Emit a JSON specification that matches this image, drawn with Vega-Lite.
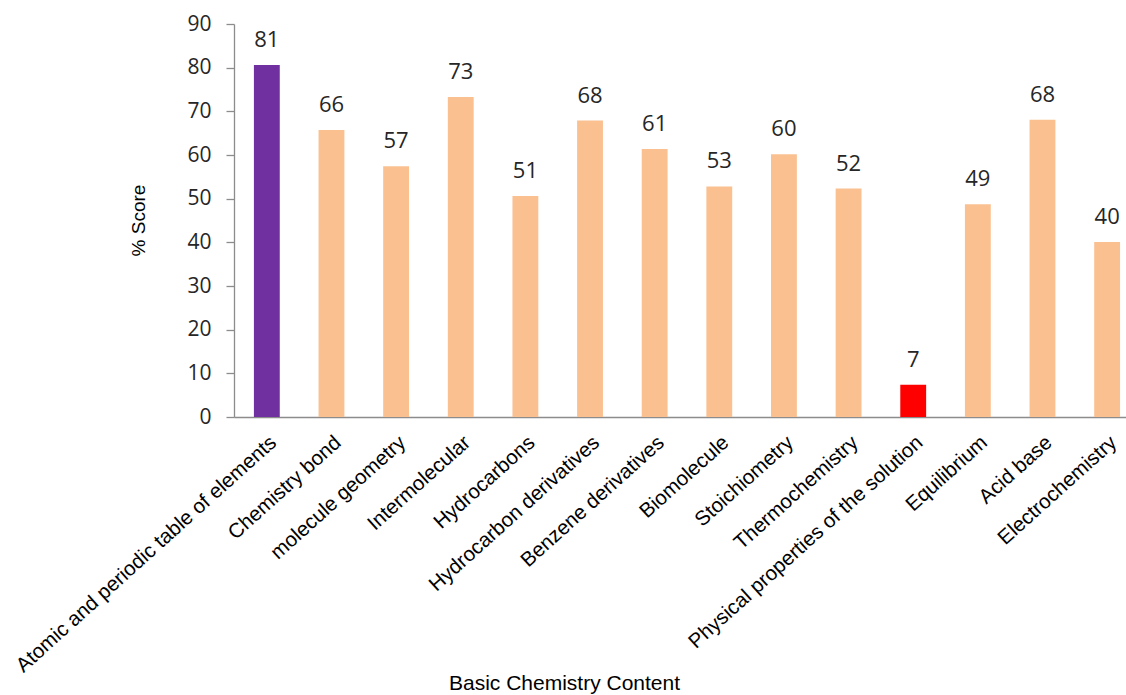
{
  "$schema": "https://vega.github.io/schema/vega-lite/v6.json",
  "width": 892,
  "height": 393,
  "autosize": {"type": "none"},
  "padding": {"left": 234, "top": 24, "right": 0, "bottom": 278},
  "background": "white",
  "config": {"view": {"stroke": null}},
  "data": {
    "values": [
      {"topic": "Atomic and periodic table of elements", "score": 80.6, "status": "highest"},
      {"topic": "Chemistry bond", "score": 65.7, "status": "other"},
      {"topic": "molecule geometry", "score": 57.4, "status": "other"},
      {"topic": "Intermolecular", "score": 73.3, "status": "other"},
      {"topic": "Hydrocarbons", "score": 50.6, "status": "other"},
      {"topic": "Hydrocarbon derivatives", "score": 67.9, "status": "other"},
      {"topic": "Benzene derivatives", "score": 61.4, "status": "other"},
      {"topic": "Biomolecule", "score": 52.8, "status": "other"},
      {"topic": "Stoichiometry", "score": 60.2, "status": "other"},
      {"topic": "Thermochemistry", "score": 52.3, "status": "other"},
      {"topic": "Physical properties of the solution", "score": 7.4, "status": "lowest"},
      {"topic": "Equilibrium", "score": 48.7, "status": "other"},
      {"topic": "Acid base", "score": 68.1, "status": "other"},
      {"topic": "Electrochemistry", "score": 40.1, "status": "other"}
    ]
  },
  "encoding": {
    "x": {
      "field": "topic",
      "type": "nominal",
      "sort": null,
      "scale": {"paddingInner": 0.6, "paddingOuter": 0.2, "align": 0.77},
      "axis": {
        "title": "Basic Chemistry Content",
        "titleFont": "Liberation Sans",
        "titleFontSize": 21,
        "titleFontWeight": "normal",
        "titleColor": "#000000",
        "titleX": 330,
        "titleY": 272,
        "titleAlign": "center",
        "titleBaseline": "alphabetic",
        "labelAngle": -42,
        "labelFont": "Liberation Sans",
        "labelFontSize": 20.5,
        "labelColor": "#000000",
        "labelPadding": 15,
        "labelLimit": 500,
        "labelOverlap": false,
        "ticks": false,
        "domainColor": "#8c8c8c",
        "domainWidth": 1.3,
        "grid": false
      }
    },
    "y": {
      "field": "score",
      "type": "quantitative",
      "scale": {"domain": [0, 90], "nice": false},
      "axis": {
        "title": "% Score",
        "titleFont": "Liberation Sans",
        "titleFontSize": 19,
        "titleFontWeight": "normal",
        "titleColor": "#000000",
        "titleAngle": -90,
        "titleX": -96,
        "titleY": 196,
        "titleAlign": "center",
        "titleBaseline": "middle",
        "values": [0, 10, 20, 30, 40, 50, 60, 70, 80, 90],
        "labelFont": "Open Sans",
        "labelFontSize": 21,
        "labelColor": "#262626",
        "labelPadding": 15,
        "tickSize": 8,
        "tickColor": "#8c8c8c",
        "tickWidth": 1.3,
        "domainColor": "#8c8c8c",
        "domainWidth": 1.3,
        "grid": false
      }
    }
  },
  "layer": [
    {
      "mark": {"type": "bar"},
      "encoding": {
        "color": {
          "field": "status",
          "type": "nominal",
          "scale": {"domain": ["highest", "other", "lowest"], "range": ["#7030A0", "#FAC090", "#FF0000"]},
          "legend": null
        }
      }
    },
    {
      "mark": {"type": "text", "baseline": "alphabetic", "dy": -18, "font": "Open Sans", "fontSize": 22, "color": "#262626"},
      "encoding": {
        "text": {"field": "score", "type": "quantitative", "format": ".0f"}
      }
    }
  ]
}
